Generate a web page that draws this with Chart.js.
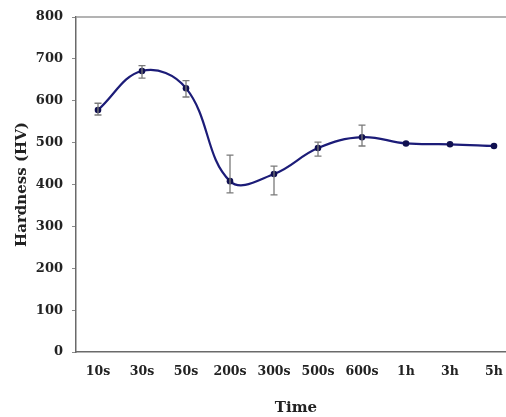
<!DOCTYPE html>
<html>
<head>
<meta charset="utf-8">
<script src="https://cdn.jsdelivr.net/npm/chart.js@4.4.0/dist/chart.umd.min.js"></script>
<style>
  html, body { margin: 0; padding: 0; background: #fff; overflow: hidden; }
  #wrap { width: 520px; height: 417px; }
</style>
</head>
<body>
<div id="wrap"><canvas id="grafico"></canvas></div>
<script>
// Datos
const tiempos = ["10s", "30s", "50s", "200s", "300s", "500s", "600s", "1h", "3h", "5h"];
const dureza = [578, 671, 630, 408, 425, 487, 513, 498, 496, 492];
const errorArriba = [594, 684, 648, 470, 444, 501, 542, 502, 499, 495];
const errorAbajo = [566, 654, 609, 380, 375, 468, 492, 494, 493, 489];
const ticksY = [0, 100, 200, 300, 400, 500, 600, 700, 800];

// Barras de error y borde del área
const barrasError = {
  id: 'barrasError',
  afterDatasetsDraw(chart) {
    const { ctx, scales: { x, y } } = chart;
    ctx.save();
    ctx.strokeStyle = '#7a7a7a';
    ctx.lineWidth = 1.3;
    tiempos.forEach((t, i) => {
      if (errorArriba[i] - errorAbajo[i] < 10) return;
      const px = x.getPixelForValue(i);
      const yA = y.getPixelForValue(errorArriba[i]);
      const yB = y.getPixelForValue(errorAbajo[i]);
      ctx.beginPath();
      ctx.moveTo(px, yA); ctx.lineTo(px, yB);
      ctx.moveTo(px - 3.5, yA); ctx.lineTo(px + 3.5, yA);
      ctx.moveTo(px - 3.5, yB); ctx.lineTo(px + 3.5, yB);
      ctx.stroke();
    });
    ctx.restore();
  },
  beforeDatasetsDraw(chart) {
    const { ctx, chartArea: a } = chart;
    ctx.save();
    ctx.strokeStyle = '#9a9a9a';
    ctx.lineWidth = 1.5;
    ctx.beginPath();
    ctx.moveTo(a.left, a.top); ctx.lineTo(a.right, a.top); ctx.lineTo(a.right, a.bottom);
    ctx.stroke();
    ctx.restore();
  }
};

new Chart(document.getElementById('grafico'), {
  type: 'line',
  data: {
    labels: tiempos,
    datasets: [{
      label: 'Hardness',
      data: dureza,
      borderColor: '#1c1c78',
      backgroundColor: '#101050',
      borderWidth: 2.2,
      pointRadius: 3.3,
      pointBorderWidth: 0,
      tension: 0.4,
      fill: false
    }]
  },
  options: {
    responsive: true,
    maintainAspectRatio: false,
    animation: false,
    layout: { padding: { left: 4, top: 17, right: 4, bottom: 0 } },
    plugins: {
      legend: { display: false },
      tooltip: { enabled: false }
    },
    scales: {
      x: {
        offset: true,
        grid: { display: false, drawTicks: false },
        border: { display: true, color: '#6a6a6a', width: 1.5 },
        ticks: {
          color: '#222',
          padding: 12,
          maxRotation: 0,
          autoSkip: false,
          font: { family: 'DejaVu Serif', size: 12.5, weight: 'bold' }
        },
        title: {
          display: true,
          text: 'Time',
          color: '#222',
          padding: { top: 11, bottom: 0 },
          font: { family: 'DejaVu Serif', size: 15, weight: 'bold' }
        },
        afterFit: s => { s.height = 65; }
      },
      y: {
        min: 0,
        max: 800,
        afterBuildTicks: s => { s.ticks = ticksY.map(v => ({ value: v })); },
        grid: { drawOnChartArea: false, drawTicks: true, tickLength: 4, color: '#8a8a8a' },
        border: { display: true, color: '#6a6a6a', width: 1.5 },
        ticks: {
          color: '#222',
          padding: 9,
          font: { family: 'DejaVu Serif', size: 13, weight: 'bold' }
        },
        title: {
          display: true,
          text: 'Hardness (HV)',
          color: '#222',
          padding: { top: 9, bottom: 0 },
          font: { family: 'DejaVu Serif', size: 15, weight: 'bold' }
        },
        afterFit: s => { s.width = 72; }
      }
    }
  },
  plugins: [barrasError]
});
</script>
</body>
</html>
